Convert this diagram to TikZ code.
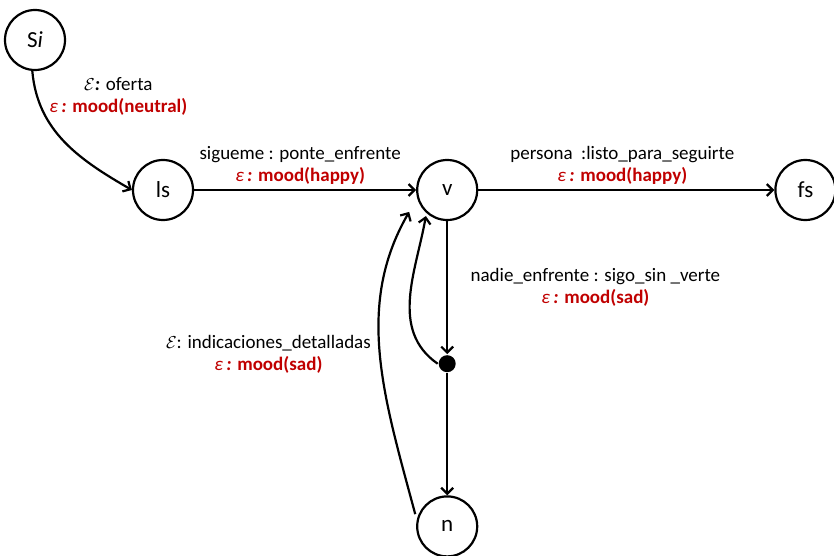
\documentclass[tikz,border=0pt]{standalone}
\usepackage{fontspec}
\setmainfont{Carlito}
\usepackage{xcolor}
\usetikzlibrary{arrows.meta, positioning}

\definecolor{moodred}{RGB}{192,0,0}
\newcommand{\epsE}{$\mathcal{E}$}
\newcommand{\moodtag}[1]{\textcolor{moodred}{\textit{ε}\,\textbf{\textit{:}} \textbf{mood(#1)}}}

\begin{document}
\begin{tikzpicture}[x=1pt, y=1pt, line width=2.2pt, >={Straight Barb[length=6pt,width=12pt]},
    state/.style={circle, draw, minimum size=60pt, inner sep=0pt, font=\fontsize{23}{27}\selectfont},
    dotstate/.style={circle, fill, minimum size=17pt, inner sep=0pt},
    lbl/.style={align=center, font=\fontsize{19}{22}\selectfont}]
    \useasboundingbox (0,0) rectangle (834,555);
    \node[state] (si) at (35,515) {S\textit{i}};
    \node[state] (ls) at (163,365) {ls};
    \node[state, right=222pt of ls] (v) {v};
    \node[state, right=296pt of v] (fs) {fs};
    \node[dotstate, below=133pt of v] (d) {};
    \node[state, below=122pt of d] (n) {n};
    \draw[->] (si.265) to[out=-85, in=150]
        node[lbl, pos=0.15, anchor=west, xshift=8pt] {\epsE\textbf{\textit{:}} oferta\\ \moodtag{neutral}} (ls.west);
    \draw[->] (ls) -- node[lbl, above=1pt, xshift=-5pt] {sigueme : ponte\_enfrente\\ \moodtag{happy}} (v);
    \draw[->] (v) -- node[lbl, above=1pt, xshift=-4pt] {persona\ \ :listo\_para\_seguirte\\ \moodtag{happy}} (fs);
    \draw[->] (v) -- node[lbl, right=19pt] {nadie\_enfrente : sigo\_sin \_verte\\ \moodtag{sad}} (d);
    \draw[->] (d) -- (n);
    \draw[->, shorten >=3pt] (d.west) to[out=145, in=260] (v.228);
    \draw[->, shorten <=6pt, shorten >=16pt] (n.168) to[out=105, in=240]
        node[lbl, left=6pt] {\epsE: indicaciones\_detalladas\\ \moodtag{sad}} (v.195);
\end{tikzpicture}
\end{document}
